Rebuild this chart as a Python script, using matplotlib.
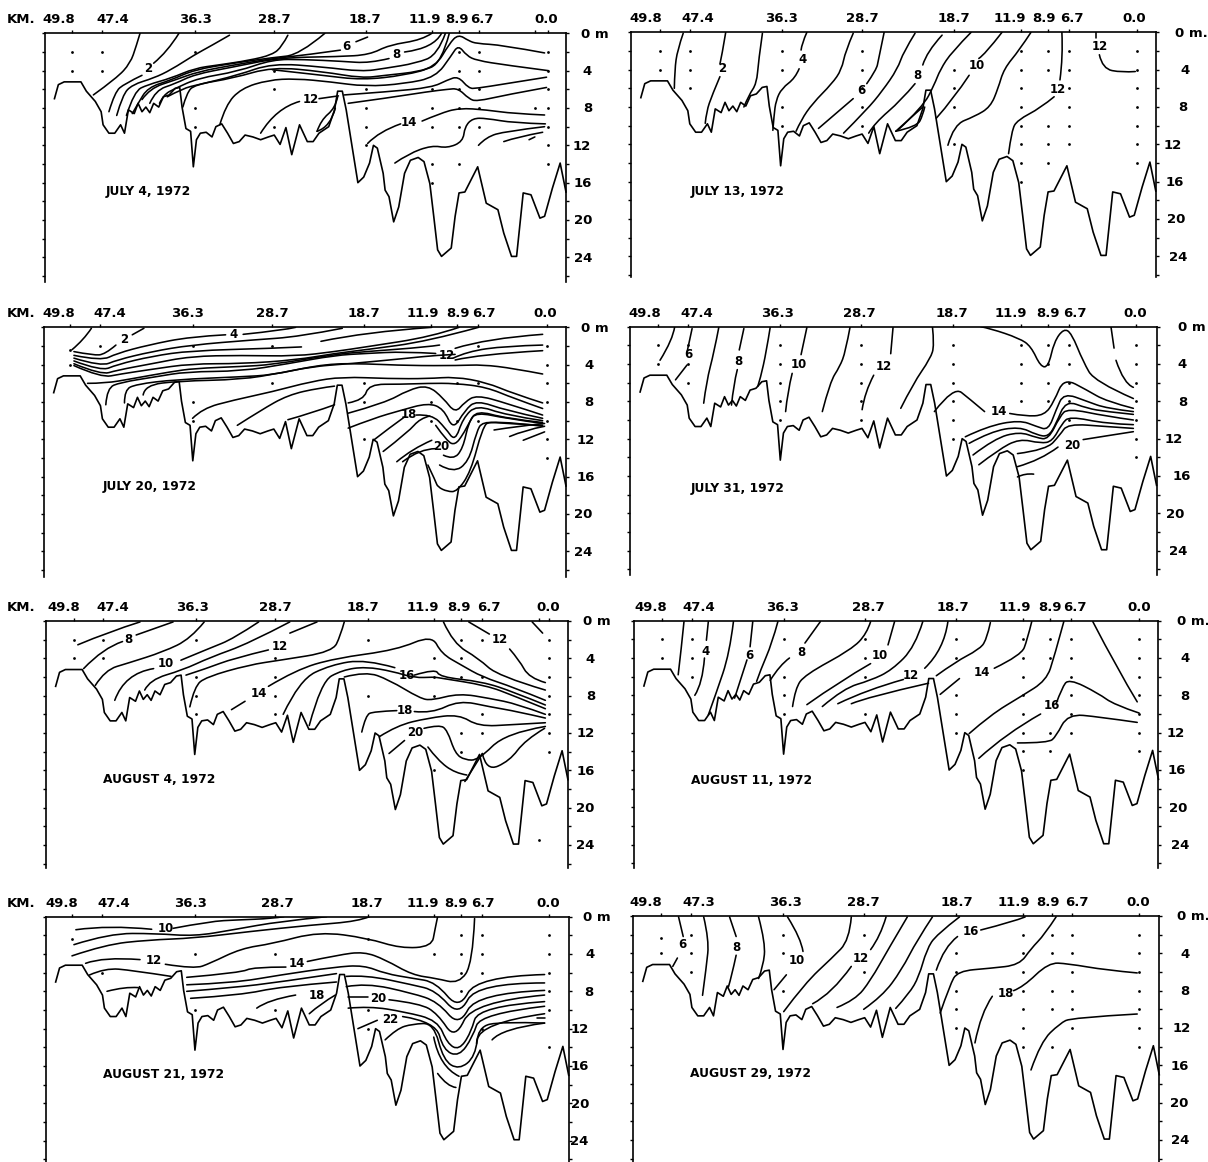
import matplotlib
matplotlib.use("Agg")
import numpy as np
import matplotlib.pyplot as plt
from matplotlib.patches import PathPatch
from matplotlib.path import Path

plt.rcParams["font.family"] = "DejaVu Sans"
plt.rcParams["font.weight"] = "bold"

WIDTH_PX, HEIGHT_PX = 1208, 1162

# Bottom profile along the section: position units of the first panel, depth in m.
BOTTOM_X = [140, 150, 165, 208, 222, 245, 260, 265, 280, 295,
            310, 320, 330, 345, 355, 365, 375, 385, 395, 408,
            420, 435, 450, 462, 468, 478, 490, 497, 505, 515,
            530, 545, 555, 570, 585, 600, 615, 630, 650, 670,
            690, 705, 720, 735, 750, 770, 790, 805, 820, 845,
            860, 868, 880, 890, 920, 935, 950, 960, 970, 985,
            990, 1000, 1012, 1025, 1040, 1055, 1075, 1090, 1105, 1115,
            1125, 1135, 1160, 1170, 1180, 1195, 1228, 1250, 1280, 1295,
            1315, 1328, 1345, 1365, 1388, 1400, 1420, 1440, 1455]
BOTTOM_D = [7.0, 5.5, 5.2, 5.2, 6.2, 7.3, 8.4, 9.8, 10.7, 10.7,
            9.8, 10.7, 8.2, 8.6, 7.5, 8.4, 7.9, 8.5, 7.5, 7.9,
            6.8, 6.6, 5.9, 5.8, 7.9, 10.2, 10.5, 14.3, 11.4, 10.7,
            10.6, 11.1, 10, 9.7, 10.7, 11.8, 11.6, 10.9, 11.1, 11.4,
            11.1, 10.9, 11.9, 10.1, 13, 9.8, 11.6, 11.6, 10.7, 10,
            8.2, 6.2, 6.2, 8.2, 16, 15.4, 13.9, 12, 12.3, 15,
            16.8, 17.5, 20.2, 18.6, 15, 13.6, 13.3, 13.75, 16.1, 19.6,
            23.2, 23.9, 23, 19.6, 17.1, 17, 14.3, 18.2, 18.9, 21.4,
            23.9, 23.9, 17.1, 17.3, 19.8, 19.6, 16.6, 13.9, 17]
BOTTOM_LEFT, BOTTOM_RIGHT = 115, 1455

DEPTH_TICKS = [0, 4, 8, 12, 16, 20, 24]

# Isotherms, one (x, depth) pair per drawn piece.
JUL4_LINES = [
    ([360, 350, 335, 300, 240], [0, 1.4, 3.2, 4.8, 6.6]),
    ([460, 430, 395], [0, 2.0, 3.2]),
    ([365, 320, 295, 280], [4.5, 5.4, 6.3, 8.4]),
    ([590, 540, 500, 440, 395, 340, 315, 300], [0.2, 1.4, 2.3, 3.9, 4.8, 5.5, 6.6, 8.8]),
    ([740, 725, 700, 640, 560, 500, 440, 380, 345, 325], [0.2, 1.4, 2.3, 2.9, 3.4, 3.75, 4.8, 5.5, 6.2, 8.8]),
    ([835, 770, 700, 600, 500, 440, 380, 355, 340], [0, 2.3, 2.6, 3.2, 3.9, 5.0, 5.8, 7.5, 8.6]),
    ([945, 915], [0.4, 0.9]),
    ([875, 790, 700, 600, 510, 450, 385, 365], [1.8, 2.3, 2.7, 3.4, 4.1, 5.0, 5.9, 7.1]),
    ([1110, 1085, 1000, 950, 870, 720, 600, 500, 450, 400, 385], [0, 0.7, 1.25, 2.3, 2.5, 2.6, 3.6, 4.4, 5.4, 6.1, 7.5]),
    ([1135, 1115, 1040], [0, 1.6, 2.0]),
    ([1000, 950, 880, 780, 700, 610, 510, 450, 420, 410], [2.7, 3.2, 3.0, 2.8, 2.8, 4.1, 4.8, 5.9, 6.6, 7.5]),
    ([1145, 1125, 1070, 990, 930, 830, 700, 610, 510, 470, 430], [0, 2.3, 3.2, 3.75, 4.1, 3.6, 3.2, 4.5, 5.5, 5.9, 6.8]),
    ([1155, 1135, 1080, 990, 930, 830, 700, 600, 500, 480, 470], [0, 3.2, 4.1, 4.5, 4.8, 4.1, 3.6, 4.8, 5.5, 6.4, 7.9]),
    ([700, 830, 930, 1040, 1120, 1155, 1178, 1205, 1225, 1290, 1400], [3.9, 4.5, 5, 4.5, 3.6, 1.1, 0.1, 0.8, 1.1, 1.25, 2.1]),
    ([565, 580, 620, 690, 760, 850, 940, 1040, 1120, 1160, 1178, 1200, 1225, 1300, 1410],
     [9.8, 7.7, 5.9, 5, 4.85, 5.2, 5.7, 5.4, 4.7, 2.4, 1.25, 2.4, 2.9, 3.4, 4]),
    ([885, 1000, 1110, 1150, 1178, 1205, 1225, 1300, 1405], [6.6, 6.25, 5.8, 5.0, 4.6, 5.9, 5.9, 5.4, 4.7]),
    ([895, 1000, 1100, 1150, 1178, 1205, 1225, 1300, 1405], [7.5, 6.9, 6.25, 6.0, 5.9, 7.0, 7.3, 6.6, 5.8]),
    ([670, 710, 770], [10.7, 8.0, 7.3]),
    ([820, 870], [7.0, 6.7]),
    ([815, 825, 862, 868], [10.5, 9.3, 8.0, 6.8]),
    ([815, 850, 862], [10.5, 10, 8.0]),
    ([945, 975, 1030], [11.8, 10.5, 9.7]),
    ([1085, 1130, 1180, 1250, 1320, 1400], [9.4, 8.6, 8.0, 8.2, 8.6, 8.75]),
    ([1015, 1050, 1110, 1150, 1190, 1195, 1215, 1250, 1320, 1402], [13.9, 12.9, 12, 12.3, 11.6, 10, 9.1, 9.1, 9.6, 9.7]),
    ([1230, 1250, 1300, 1400], [12, 11.1, 10.5, 10]),
    ([1295, 1330, 1395], [11.6, 11.1, 10.6]),
    ([1360, 1375], [11.4, 11.1]),
]
JUL4_LABELS = [(380, 3.8, "2"), (890, 1.4, "6"), (1018, 2.3, "8"), (798, 7.1, "12"), (1052, 9.5, "14")]
JUL4_STATIONS = [(185, [2, 4]), (263, [2, 4]), (500, [2, 8, 10]), (705, [4, 6, 10]), (940, [6, 8, 10, 12]),
                 (1110, [6, 8, 10, 14, 16]), (1180, [2, 4, 6, 8, 10, 14]), (1232, [2, 4, 6, 8, 10]),
                 (1375, [8]), (1410, [2, 4, 6, 8, 10, 12, 14])]

JUL13_LINES = [
    ([205, 190, 183, 182], [0.1, 1.9, 4, 6]),
    ([315, 305, 300], [0, 2.5, 3.4]),
    ([300, 280, 265, 262], [4.75, 6.7, 8.5, 9.75]),
    ([410, 400, 395, 375, 362], [0.1, 3, 5.5, 6.7, 8]),
    ([525, 512, 510], [0, 1.2, 1.9]),
    ([505, 495, 460, 445, 440, 437], [3.9, 4.9, 6, 7.3, 8.9, 10.5]),
    ([645, 625, 615, 590, 540, 510, 497], [0.1, 2, 4, 5.5, 7.6, 9.4, 10.6]),
    ([725, 710, 705, 680], [0, 3, 4, 5.5]),
    ([645, 600, 555], [7.1, 8.7, 10.3]),
    ([805, 775, 760, 720, 680, 620], [0.1, 2.1, 3.9, 6.3, 8.3, 10.8]),
    ([875, 835, 825], [0.3, 2.1, 3.5]),
    ([805, 770, 700, 685], [5.5, 7.25, 9.75, 10.8]),
    ([950, 900, 870, 855, 825, 760], [0, 2.1, 4, 5.6, 8, 10.5]),
    ([1030, 985, 970], [0, 2.4, 2.8]),
    ([945, 905, 860], [4.6, 7.1, 9.2]),
    ([755, 825], [10.6, 8]),
    ([755, 810, 825, 830], [10.6, 10.1, 8.9, 8]),
    ([1105, 1075, 1035, 1020, 1000, 960, 905, 890], [0, 1.9, 3.9, 6, 8, 9, 9.9, 12.1]),
    ([1185, 1188, 1180], [0, 2.6, 5.1]),
    ([1165, 1130, 1070, 1055, 1047], [6.9, 8.1, 9.4, 10.5, 13]),
    ([1272, 1272], [0, 0.65]),
    ([1282, 1290, 1340, 1375], [2.4, 3.9, 4.3, 4.2]),
]
JUL13_LABELS = [(305, 3.9, "2"), (515, 2.9, "4"), (665, 6.2, "6"), (812, 4.6, "8"), (965, 3.6, "10"),
                (1175, 6.1, "12"), (1282, 1.5, "12")]
JUL13_STATIONS = [(145, [2, 4]), (222, [2, 4, 6]), (460, [2, 4, 8, 10]), (668, [2, 4, 6, 8, 10]), (905, [4, 6, 8, 12]),
                  (1080, [2, 4, 6, 8, 10, 12, 14, 16]), (1150, [2, 4, 10, 12, 14]), (1203, [2, 4, 6, 8, 10, 12]),
                  (1380, [2, 4, 6, 8, 10, 12, 14])]

JUL20_LINES = [
    ([235, 215, 185], [0.1, 1.35, 2.4]),
    ([370, 340], [0.1, 0.8]),
    ([298, 270, 240, 190], [1.9, 2.9, 3, 2.6]),
    ([190, 260, 300, 380, 490, 580], [3, 3.6, 2.8, 1.9, 1, 0.8]),
    ([625, 730, 760], [0.75, 0.3, 0]),
    ([190, 260, 300, 390, 490, 650, 770, 880], [3.3, 4.2, 3.5, 2.6, 1.9, 1.35, 1, 0.1]),
    ([190, 260, 300, 390, 490, 700, 775], [3.6, 4.7, 4, 3.1, 2.5, 2.25, 2.1]),
    ([825, 940, 1110], [1.5, 0.5, 0]),
    ([190, 260, 300, 390, 490, 620, 760, 860, 940, 1110, 1180], [3.9, 5.1, 4.6, 3.9, 3.1, 3, 3.1, 2.6, 2.1, 1, 0]),
    ([190, 260, 310, 390, 490, 620, 760, 860, 940, 1100, 1230], [4.1, 5.4, 5, 4.5, 3.9, 3.9, 3.5, 2.8, 2.4, 1.5, 0]),
    ([225, 270, 340, 440, 500, 620, 700, 860, 940, 1100, 1130], [6, 6, 5.5, 4.75, 4.4, 4.2, 4, 2.9, 2.6, 2.1, 1.9]),
    ([1170, 1250, 1395], [2.25, 1.2, 0.75]),
    ([272, 275, 310, 400, 480, 620, 740, 860, 940, 1040, 1120], [8.3, 6.5, 5.9, 5.3, 4.75, 4.7, 3.9, 3, 2.8, 2.6, 2.8]),
    ([1165, 1200, 1300, 1395], [3.3, 2.6, 2, 1.9]),
    ([320, 320, 350, 450, 620, 700, 800, 900, 1050, 1120, 1170], [8.1, 6.7, 6.1, 5.6, 5.3, 5.1, 4.2, 3.9, 3.3, 3, 2.9]),
    ([1170, 1230, 1395], [3.5, 2.9, 2.5]),
    ([368, 372, 460, 620, 720, 840, 940, 1050, 1180, 1240, 1320, 1395], [7.25, 6.2, 5.75, 5.6, 4.9, 3.9, 3.9, 4.1, 4.1, 4, 4.4, 5]),
    ([495, 520, 600, 700, 800, 880, 1000, 1100, 1170, 1250, 1320, 1395], [9.75, 8.7, 7.8, 6.9, 5.8, 5.3, 5.5, 5.5, 5.3, 5.9, 7.1, 8.1]),
    ([610, 670, 740, 820, 860], [10.5, 8.9, 7.25, 6.5, 6.3]),
    ([740, 800, 860], [9.9, 9.2, 8.3]),
    ([895, 935, 948, 1030, 1100, 1170, 1250, 1320, 1395], [8.1, 7.8, 6.1, 6.1, 6, 6, 6.4, 7.6, 8.7]),
    ([895, 990, 1050, 1100, 1140, 1170, 1195, 1225, 1300, 1395], [9.2, 8.1, 6.7, 6.2, 7.6, 9.2, 8, 7.25, 8.1, 9.4]),
    ([895, 960, 1030, 1100, 1140, 1165, 1195, 1225, 1300, 1395], [10.8, 9.75, 8.9, 8.1, 8.7, 11, 8.9, 7.8, 8.9, 9.75]),
    ([960, 1000, 1040], [12.1, 10.8, 9.6]),
    ([1070, 1110, 1145, 1170, 1190, 1225, 1300, 1395], [9.4, 9.3, 10.8, 12.25, 9.75, 8.3, 9.4, 10]),
    ([985, 1050, 1080, 1105], [13.3, 11.2, 9.75, 9.5]),
    ([1120, 1150, 1170, 1190, 1205, 1225, 1300, 1395], [10.5, 12.25, 12.6, 11.5, 10.3, 8.9, 9.75, 10.2]),
    ([1020, 1060, 1110], [14.4, 13, 12.1]),
    ([1140, 1165, 1190, 1205, 1225, 1300, 1395], [13.7, 14.2, 13, 10.1, 9.1, 9.75, 10.3]),
    ([1035, 1080, 1120], [14.4, 13, 13]),
    ([1130, 1165, 1205, 1225, 1240, 1300, 1395], [14.75, 15.6, 14.4, 11.2, 10.1, 10.3, 10.5]),
    ([1100, 1120, 1125, 1150, 1175, 1210, 1240, 1260, 1395], [14.75, 16.5, 17.1, 17.6, 17.6, 15.5, 10.8, 9.9, 10.6]),
    ([1270, 1330, 1400], [11, 10.6, 10.3]),
    ([1310, 1350, 1400], [11.7, 11, 10.6]),
    ([1345, 1400], [12.1, 11.2]),
]
JUL20_LABELS = [(318, 1.35, "2"), (600, 0.8, "4"), (1148, 3, "12"), (1052, 9.3, "18"), (1135, 12.8, "20")]
JUL20_STATIONS = [(180, [2.4, 4]), (258, [2]), (495, [2, 8, 10]), (700, [2, 6]), (935, [6, 8, 12]), (1108, [8, 10]),
                  (1175, [6, 10]), (1228, [2, 6, 10]), (1405, [2, 4, 6, 8, 10, 12, 14])]

JUL31_LINES = [
    ([183, 178, 145], [0, 1.4, 3.6]),
    ([228, 215], [0.2, 2.7]),
    ([215, 185], [4.1, 5.7]),
    ([297, 285, 265, 258], [0.1, 2.7, 5.9, 8.2]),
    ([362, 350], [0.2, 2.5]),
    ([345, 335, 330], [4.6, 6.25, 8.4]),
    ([430, 420, 405, 398], [0.1, 2.7, 5.5, 6.4]),
    ([525, 510], [0.1, 3]),
    ([487, 475, 470], [5, 7, 9.1]),
    ([637, 625, 610, 585, 565], [0, 2.7, 4.3, 5.9, 9.1]),
    ([748, 742], [0.1, 2.9]),
    ([698, 675, 668], [5.2, 7, 8.9]),
    ([850, 855, 845, 800, 768], [0, 2, 3.4, 6.1, 8.75]),
    ([975, 1000, 1075, 1105, 1130, 1150, 1165, 1190, 1210, 1240, 1270, 1370],
     [0, 0.2, 1.25, 2.1, 4.3, 4.3, 1.6, 0.2, 0.7, 3.75, 5.9, 7.7]),
    ([1312, 1320], [0, 2.3]),
    ([1325, 1345, 1370], [3.6, 6.1, 6.5]),
    ([855, 905, 945, 985], [9.1, 6.4, 7.7, 9.1]),
    ([1050, 1090, 1140, 1165, 1190, 1250, 1300, 1370], [9.3, 9.6, 9.5, 8, 5.5, 6.8, 8, 8.75]),
    ([935, 990, 1075, 1120, 1150, 1170, 1190, 1250, 1300, 1370], [11.8, 10.7, 10, 10.7, 11.1, 8.9, 7.1, 8, 8.75, 9.1]),
    ([945, 1000, 1075, 1120, 1150, 1170, 1195, 1250, 1300, 1370], [12.5, 11.25, 10.7, 11.6, 11.8, 10.4, 7.9, 8.75, 9.1, 9.4]),
    ([955, 1010, 1075, 1120, 1150, 1180, 1200, 1300, 1370], [13.75, 12, 11.25, 11.9, 12.1, 9.6, 8.75, 9.6, 10]),
    ([970, 1020, 1075, 1130, 1160, 1185, 1205, 1300, 1370], [14.8, 13.2, 12, 12.5, 12.3, 10.4, 9.6, 10.4, 10.5]),
    ([1070, 1145, 1180, 1200, 1300, 1370], [13.6, 13.2, 11.6, 10.4, 10.7, 10.9]),
    ([1070, 1130, 1175], [15, 14.3, 12.9]),
    ([1240, 1300, 1370], [12.1, 11.7, 11.25]),
    ([1070, 1090, 1112], [16.1, 15.7, 15.8]),
]
JUL31_LABELS = [(218, 3, "6"), (347, 3.75, "8"), (505, 4.1, "10"), (725, 4.3, "12"), (1022, 9.1, "14"), (1213, 12.75, "20")]
JUL31_STATIONS = [(140, [2, 4]), (218, [2, 4, 6]), (455, [2, 4, 6, 8, 10]), (665, [2, 4, 6, 8, 10]),
                  (903, [2, 4, 6, 8, 10, 12]), (1078, [2, 4, 6, 8]), (1150, [2, 4, 6, 8]), (1203, [2, 4, 6, 8, 10]),
                  (1378, [2, 4, 6, 8, 10, 12, 14])]

AUG4_LINES = [
    ([360, 280, 200], [0.1, 1.15, 2.55]),
    ([445, 350], [0.1, 1.5]),
    ([315, 265, 215], [2.2, 2.9, 5.1]),
    ([525, 490, 420, 330, 270, 245], [0.1, 1.9, 3.3, 4.5, 5.25, 6.9]),
    ([665, 600, 540, 465], [0.1, 1.9, 2.9, 4.2]),
    ([395, 320, 295], [5.1, 5.6, 8.5]),
    ([745, 640, 540, 470, 385, 372], [0.1, 2.4, 3.9, 5.25, 6.3, 7.4]),
    ([815, 745], [0.1, 1.3]),
    ([690, 600, 530, 478], [3.1, 4, 5.1, 5.8]),
    ([885, 875, 855, 720, 640, 530, 500, 488], [0.1, 1.6, 3.3, 4.2, 4.7, 6, 7, 9.2]),
    ([595, 630], [9.5, 8.6]),
    ([690, 760, 860, 1020, 1110, 1135, 1185, 1240, 1320, 1402], [7, 5.25, 4, 3.1, 1.5, 3.5, 4.7, 6, 7.1, 8.5]),
    ([728, 770, 850, 940, 1015], [10, 6.3, 4.7, 4.1, 5]),
    ([1065, 1120, 1130, 1240, 1320, 1402], [5.8, 5.1, 6, 6.5, 7.6, 9]),
    ([795, 825, 880, 940, 1010, 1065, 1115, 1130, 1250, 1320, 1402], [11.2, 6.5, 5.25, 4.9, 5.4, 6.1, 6, 6.1, 6.9, 8, 9.4]),
    ([885, 940, 1000, 1080, 1110, 1180, 1260, 1330, 1402], [6, 5.4, 6.3, 8.3, 8.5, 7.75, 8.3, 8.9, 10]),
    ([930, 940, 960, 1020], [11.9, 10.1, 9.7, 9.6]),
    ([1065, 1110, 1180, 1260, 1330, 1402], [9.7, 9.9, 8.5, 9.2, 9.7, 10.4]),
    ([975, 1020, 1100, 1180, 1230, 1320, 1402], [12.4, 11.2, 10.4, 10, 11.3, 11.1, 10.9]),
    ([1000, 1040], [14.2, 12.8]),
    ([1090, 1130, 1150, 1170, 1195, 1230, 1300, 1402], [11.5, 11.1, 11.7, 14.2, 14.9, 14.9, 12, 11.3]),
    ([1100, 1125, 1170, 1200], [13.5, 14.9, 16.3, 16.5]),
    ([1240, 1250, 1310, 1350, 1400], [14.2, 16.1, 15, 12.75, 11.5]),
    ([1195, 1240], [17.2, 14.2]),
    ([1140, 1165, 1230, 1280, 1402], [0.1, 2.4, 4, 5.9, 7.4]),
    ([1205, 1258], [0.1, 1.4]),
    ([1310, 1335, 1360, 1402], [3, 4.2, 6.1, 6.6]),
    ([1368, 1395], [0.1, 1.3]),
]
AUG4_LABELS = [(330, 2, "8"), (425, 4.6, "10"), (720, 2.75, "12"), (1285, 2, "12"), (665, 7.75, "14"),
               (1045, 5.8, "16"), (1042, 9.6, "18"), (1068, 12, "20")]
AUG4_STATIONS = [(190, [2, 4]), (265, [2, 4]), (505, [2, 6, 8, 10]), (708, [4, 6, 8, 10]), (945, [2, 8]),
                 (1115, [4, 6, 8, 16]), (1185, [2, 4, 6, 12, 14]), (1238, [2, 6, 10, 12]),
                 (1385, [23.5]), (1412, [2, 4, 6, 8, 10, 12, 14])]

AUG11_LINES = [
    ([207, 200, 192], [0.1, 3, 5.8]),
    ([270, 265], [0.1, 2.1]),
    ([260, 255, 235], [4, 6.7, 8]),
    ([335, 325, 290, 270], [0.1, 3.5, 7.8, 10.1]),
    ([385, 378], [0.1, 2.8]),
    ([370, 345, 338], [4.2, 7.4, 8.3]),
    ([450, 435, 405, 395], [0.1, 2.4, 5.3, 6.5]),
    ([560, 520], [0.1, 2.4]),
    ([480, 455, 430], [4, 4.75, 6.4]),
    ([690, 680, 640, 520, 495, 488], [0.1, 1.4, 3.1, 5.8, 7.25, 9.2]),
    ([752, 735], [0.1, 2.6]),
    ([690, 610, 525], [4.6, 6.5, 9]),
    ([825, 805, 745, 690, 620, 565], [0.1, 2.8, 5.3, 6.4, 7.25, 9.2]),
    ([890, 880, 830], [0.1, 3.1, 5.1]),
    ([775, 680, 605], [6.3, 7.4, 8.9]),
    ([1000, 990, 970, 910, 860], [0.2, 2.1, 3.1, 4.4, 5.9]),
    ([640, 680, 840], [8.9, 8.2, 6.7]),
    ([1107, 1095, 1080, 1010], [0.1, 2.1, 3.7, 5.1]),
    ([920, 870], [6.2, 7.9]),
    ([1190, 1165, 1145, 1080, 1000, 945], [0.1, 3.9, 6.4, 8.1, 10.1, 12.1]),
    ([1170, 1185, 1203, 1280, 1320, 1385], [8.9, 7.2, 6.2, 7.8, 9, 9.9]),
    ([970, 1040, 1130], [14.75, 12.1, 10]),
    ([1070, 1150, 1170, 1200, 1280, 1380], [13.1, 13.1, 12.4, 10, 10.3, 10.9]),
    ([1265, 1330, 1380], [0.1, 5.3, 8.7]),
]
AUG11_LABELS = [(262, 3.3, "4"), (375, 3.7, "6"), (510, 3.4, "8"), (715, 3.75, "10"), (795, 5.9, "12"),
                (978, 5.6, "14"), (1160, 9.1, "16")]
AUG11_STATIONS = [(150, [2, 4]), (228, [2, 4, 6]), (465, [2, 6, 8, 10]), (675, [2, 4, 6, 10]), (910, [2, 4, 8, 10, 12]),
                  (1085, [2, 4, 6, 8, 10, 12, 14, 16]), (1155, [2, 4, 12, 14]), (1208, [2, 4, 6, 8, 10, 12]),
                  (1385, [2, 4, 6, 8, 10, 12, 14])]

AUG21_LINES = [
    ([195, 280, 390], [1.4, 0.9, 1.35]),
    ([445, 540, 610, 700, 730], [1.25, 0.5, 0.35, 0.2, 0]),
    ([190, 280, 400, 500, 600, 720, 840], [3, 1.8, 1.8, 2.1, 1.4, 0.5, 0]),
    ([185, 270, 380, 500, 640, 800, 920, 950], [4.2, 3, 2.5, 2.3, 1.6, 0.9, 0.5, 0]),
    ([220, 265, 360], [5, 4.3, 4.6]),
    ([425, 500, 540, 620, 700, 820, 945, 1030, 1110, 1118, 1125], [5.1, 5.6, 5, 3.4, 2.9, 1.6, 2.3, 3.4, 3.2, 1.4, 0]),
    ([230, 270, 340, 440], [6.25, 5.5, 5.75, 6.4]),
    ([275, 320, 355], [8, 7.5, 7.6]),
    ([480, 620, 650, 735], [6.5, 6, 5.4, 5.4]),
    ([790, 870, 935, 990, 1060, 1120, 1180, 1215, 1220], [4.8, 4.1, 3.75, 4.6, 6.25, 6.6, 7.2, 5, 0.2]),
    ([480, 600, 720, 860, 935, 990, 1060, 1120, 1180, 1225, 1400], [7.3, 7.1, 6.25, 5.4, 5.2, 6.1, 6.6, 7, 10, 6.4, 6.2]),
    ([480, 600, 720, 865], [8, 7.6, 7, 6.1]),
    ([890, 940, 1060, 1120, 1180, 1225, 1400], [6.4, 6.25, 7.3, 7.9, 10.7, 7.1, 7.1]),
    ([490, 620, 720, 865], [8.75, 8.4, 7.5, 7]),
    ([890, 940, 1060, 1125, 1180, 1225, 1400], [7.5, 7.1, 8.2, 9.1, 11.8, 8.2, 7.9]),
    ([660, 690, 760], [9.8, 8.9, 8.4]),
    ([895, 945], [8.6, 8.6]),
    ([1000, 1080, 1125, 1170, 1215, 1400], [8.9, 9.3, 10.4, 13.2, 9.1, 8.4]),
    ([795, 825, 862], [10.4, 9.3, 8.4]),
    ([895, 950, 1040, 1125, 1150, 1180, 1210, 1230, 1400], [9.8, 9.6, 10.2, 11.1, 13.6, 14.3, 12.5, 9.6, 9.1]),
    ([920, 970], [12, 11.1]),
    ([1035, 1120, 1140, 1180, 1215, 1235, 1400], [10.7, 11.25, 14.3, 15, 12.9, 10.4, 9.6]),
    ([990, 1020, 1060, 1115, 1140, 1180, 1222, 1232, 1400], [13.2, 12, 11.5, 11.4, 15.4, 16.4, 15, 11.4, 10.4]),
    ([1115, 1130, 1180], [12.9, 16.1, 17.1]),
    ([1125, 1150, 1172], [16.8, 18.2, 18.3]),
    ([1225, 1228, 1290, 1400], [13.6, 11.8, 11.25, 11.4]),
    ([1380, 1400], [10.9, 10.9]),
    ([1265, 1290, 1400], [13.2, 12, 11.4]),
]
AUG21_LABELS = [(425, 1.25, "10"), (395, 4.75, "12"), (762, 5, "14"), (815, 8.4, "18"), (972, 8.75, "20"), (1003, 11, "22")]
AUG21_STATIONS = [(185, [2.4]), (263, [6]), (500, [4, 10]), (708, [4, 10]), (945, [2.4, 10, 12]), (1115, [4]),
                  (1185, [2, 4, 6, 8]), (1238, [2, 4, 6, 12]), (1412, [2, 4, 6, 8, 10, 14])]

AUG29_LINES = [
    ([193, 205], [0.1, 2.2]),
    ([190, 178], [4.5, 5.4]),
    ([258, 272, 265, 255], [0.1, 2.6, 5.4, 8.5]),
    ([325, 342], [0.1, 2.2]),
    ([342, 330, 322], [4.2, 6.5, 7.6]),
    ([400, 418, 412, 400], [0.1, 2.9, 5.4, 6.7]),
    ([475, 510, 515], [0.1, 2.4, 3.8]),
    ([472, 440], [6.3, 7.9]),
    ([640, 635, 590, 520, 465], [0.1, 2.6, 4.5, 7.2, 10.25]),
    ([730, 715, 690], [0.1, 2.2, 3.6]),
    ([640, 590, 540], [5.4, 8.3, 9.4]),
    ([785, 735, 690, 650, 603], [0.1, 3.6, 6.9, 9, 9.8]),
    ([850, 810, 770, 720, 672], [0.1, 2.6, 5.8, 8.6, 10]),
    ([920, 860, 835, 815, 790, 755], [0.1, 2, 3.6, 6.5, 8.3, 9.9]),
    ([1090, 1060, 975], [0.1, 0.6, 1.5]),
    ([915, 880, 860], [2.2, 3.3, 5.8]),
    ([1170, 1140, 1105, 1075, 1000, 915, 895, 870], [0.1, 2, 3.5, 5.25, 5.6, 5.9, 7.4, 10.4]),
    ([1380, 1300, 1200, 1150, 1085, 1060], [6.1, 5.8, 5.1, 5, 7.6, 8]),
    ([1005, 975, 960], [8.6, 10.4, 13.6]),
    ([1380, 1210, 1180, 1130, 1105], [10.5, 10.9, 11.5, 13.5, 16.5]),
]
AUG29_LABELS = [(203, 3, "6"), (343, 3.4, "8"), (500, 4.8, "10"), (665, 4.5, "12"), (950, 1.7, "16"), (1040, 8.3, "18")]
AUG29_STATIONS = [(148, [2.4, 4]), (225, [2, 4, 6]), (462, [2, 4, 8]), (672, [2, 6]), (912, [4, 6, 8, 10, 12]),
                  (1085, [2, 4, 6, 8, 10, 12, 14]), (1160, [2, 4, 8, 10, 14]), (1210, [2, 4, 6, 8, 10, 12]),
                  (1385, [2, 4, 6, 8, 10, 12, 14])]

# km labels above each panel: text and section position.
KM_TEXTS_A = ["49.8", "47.4", "36.3", "28.7", "18.7", "11.9", "8.9", "6.7", "0.0"]
KM_TEXTS_B = ["49.8", "47.3", "36.3", "28.7", "18.7", "11.9", "8.9", "6.7", "0.0"]
JUL4_KM_X = [150, 290, 503, 705, 938, 1092, 1175, 1240, 1405]
JUL13_KM_X = [108, 243, 460, 668, 905, 1050, 1140, 1212, 1372]
JUL20_KM_X = [150, 282, 482, 700, 935, 1088, 1178, 1243, 1402]
JUL31_KM_X = [105, 240, 450, 660, 900, 1052, 1148, 1218, 1375]
AUG4_KM_X = [163, 290, 495, 708, 932, 1088, 1180, 1258, 1410]
AUG11_KM_X = [120, 245, 462, 683, 902, 1062, 1155, 1218, 1385]
AUG21_KM_X = [158, 292, 490, 712, 943, 1088, 1172, 1242, 1410]
AUG29_KM_X = [108, 245, 470, 672, 912, 1060, 1148, 1225, 1382]

# Section positions of the depth labels right of each panel.
JUL4_DEPTH_X = [1530, 1510, 1512, 1495, 1498, 1498, 1498]
JUL13_DEPTH_X = [1520, 1505, 1497, 1472, 1478, 1482, 1487]
JUL20_DEPTH_X = [1530, 1515, 1515, 1505, 1505, 1500, 1500]
JUL31_DEPTH_X = [1522, 1497, 1497, 1475, 1495, 1477, 1487]
AUG4_DEPTH_X = [1535, 1518, 1518, 1505, 1505, 1505, 1505]
AUG11_DEPTH_X = [1525, 1503, 1503, 1480, 1483, 1487, 1490]
AUG21_DEPTH_X = [1535, 1518, 1515, 1490, 1490, 1492, 1490]
AUG29_DEPTH_X = [1525, 1503, 1503, 1495, 1490, 1488, 1490]

# name, lines, labels, stations, km x, km texts, depth label x, date x, date depth, has KM,
# crop origin, x scale, frame left/right, frame top/bottom, unit label
PANELS = [
    ("JULY 4, 1972", JUL4_LINES, JUL4_LABELS, JUL4_STATIONS, JUL4_KM_X, KM_TEXTS_A, JUL4_DEPTH_X, 380, 16.9, True,
     (0, 0), 0.389, 115, 1455, 100, 845, "0 m"),
    ("JULY 13, 1972", JUL13_LINES, JUL13_LABELS, JUL13_STATIONS, JUL13_KM_X, KM_TEXTS_A, JUL13_DEPTH_X, 345, 17.1, False,
     (604, 0), 0.3864, 70, 1428, 97, 830, "0 m."),
    ("JULY 20, 1972", JUL20_LINES, JUL20_LABELS, JUL20_STATIONS, JUL20_KM_X, KM_TEXTS_A, JUL20_DEPTH_X, 385, 17.1, True,
     (0, 295), 0.389, 113, 1455, 97, 845, "0 m"),
    ("JULY 31, 1972", JUL31_LINES, JUL31_LABELS, JUL31_STATIONS, JUL31_KM_X, KM_TEXTS_A, JUL31_DEPTH_X, 345, 17.3, False,
     (604, 295), 0.3864, 68, 1430, 95, 840, "0 m"),
    ("AUGUST 4, 1972", AUG4_LINES, AUG4_LABELS, AUG4_STATIONS, AUG4_KM_X, KM_TEXTS_A, AUG4_DEPTH_X, 410, 17, True,
     (0, 590), 0.389, 118, 1460, 93, 835, "0 m"),
    ("AUGUST 11, 1972", AUG11_LINES, AUG11_LABELS, AUG11_STATIONS, AUG11_KM_X, KM_TEXTS_A, AUG11_DEPTH_X, 382, 17.1, False,
     (604, 590), 0.3864, 78, 1435, 92, 835, "0 m."),
    ("AUGUST 21, 1972", AUG21_LINES, AUG21_LABELS, AUG21_STATIONS, AUG21_KM_X, KM_TEXTS_A, AUG21_DEPTH_X, 420, 16.9, True,
     (0, 880), 0.389, 118, 1462, 110, 845, "0 m"),
    ("AUGUST 29, 1972", AUG29_LINES, AUG29_LABELS, AUG29_STATIONS, AUG29_KM_X, KM_TEXTS_B, AUG29_DEPTH_X, 378, 16.9, False,
     (604, 880), 0.3864, 75, 1437, 108, 845, "0 m."),
]

METRE_UNITS = 28.0


def smooth_path(xs, ds):
    # Quadratic Bezier pieces through the midpoints, so the hand-drawn look survives.
    points = list(zip(xs, ds))
    if len(points) < 3:
        return Path(points)
    verts = [points[0]]
    codes = [Path.MOVETO]
    for i in range(1, len(points) - 1):
        end = points[i + 1]
        if i < len(points) - 2:
            end = ((points[i][0] + points[i + 1][0]) / 2, (points[i][1] + points[i + 1][1]) / 2)
        verts.extend([points[i], end])
        codes.extend([Path.CURVE3, Path.CURVE3])
    return Path(verts, codes)


def draw_panel(fig, panel):
    title, lines, labels, stations, km_x, km_texts, depth_x, date_x, date_d, has_km, \
        origin, scale, left, right, top, bottom, unit = panel

    x0 = origin[0] + left * scale
    x1 = origin[0] + right * scale
    y0 = origin[1] + top / 3
    y1 = origin[1] + bottom / 3
    ax = fig.add_axes([x0 / WIDTH_PX, 1 - y1 / HEIGHT_PX, (x1 - x0) / WIDTH_PX, (y1 - y0) / HEIGHT_PX])
    ax.set_xlim(left, right)
    ax.set_ylim((bottom - top) / METRE_UNITS, 0)
    ax.patch.set_alpha(0)

    for side in ["top", "left", "right"]:
        ax.spines[side].set_linewidth(1.2)
    ax.spines["bottom"].set_visible(False)

    bottom_x = left + (np.array(BOTTOM_X) - BOTTOM_LEFT) / (BOTTOM_RIGHT - BOTTOM_LEFT) * (right - left)
    ax.plot(bottom_x, BOTTOM_D, color="black", linewidth=1.2, clip_on=False, solid_joinstyle="round")

    for xs, ds in lines:
        ax.add_patch(PathPatch(smooth_path(xs, ds), fill=False, edgecolor="black", linewidth=1.15, capstyle="round"))

    for sx, depths in stations:
        ax.scatter([sx] * len(depths), depths, s=4, color="black", linewidths=0, zorder=3)

    ax.set_xticks([s[0] for s in stations])
    ax.set_xticklabels([])
    ax.set_yticks(np.arange(0, 27, 2))
    ax.set_yticklabels([])
    ax.tick_params(axis="x", top=True, bottom=False, direction="out", length=2, width=1)
    ax.tick_params(axis="y", left=True, right=True, direction="out", length=2, width=1)

    for xp, text in zip(km_x, km_texts):
        ax.text(xp, -1.45, text, ha="center", va="center", fontsize=9.5)
    if has_km:
        ax.text(55, -1.45, "KM.", ha="center", va="center", fontsize=9.5)

    for tick, xp in zip(DEPTH_TICKS, depth_x):
        text = unit if tick == 0 else str(tick)
        ax.text(xp, tick + 0.1, text, ha="center", va="center", fontsize=9.5)

    for xp, dp, text in labels:
        ax.text(xp, dp, text, ha="center", va="center", fontsize=8.5)

    ax.text(date_x, date_d, title, ha="center", va="center", fontsize=8.8)


def main():
    fig = plt.figure(figsize=(WIDTH_PX / 100, HEIGHT_PX / 100), dpi=100)
    for panel in PANELS:
        draw_panel(fig, panel)
    fig.savefig("out.png", dpi=100)


if __name__ == "__main__":
    main()
